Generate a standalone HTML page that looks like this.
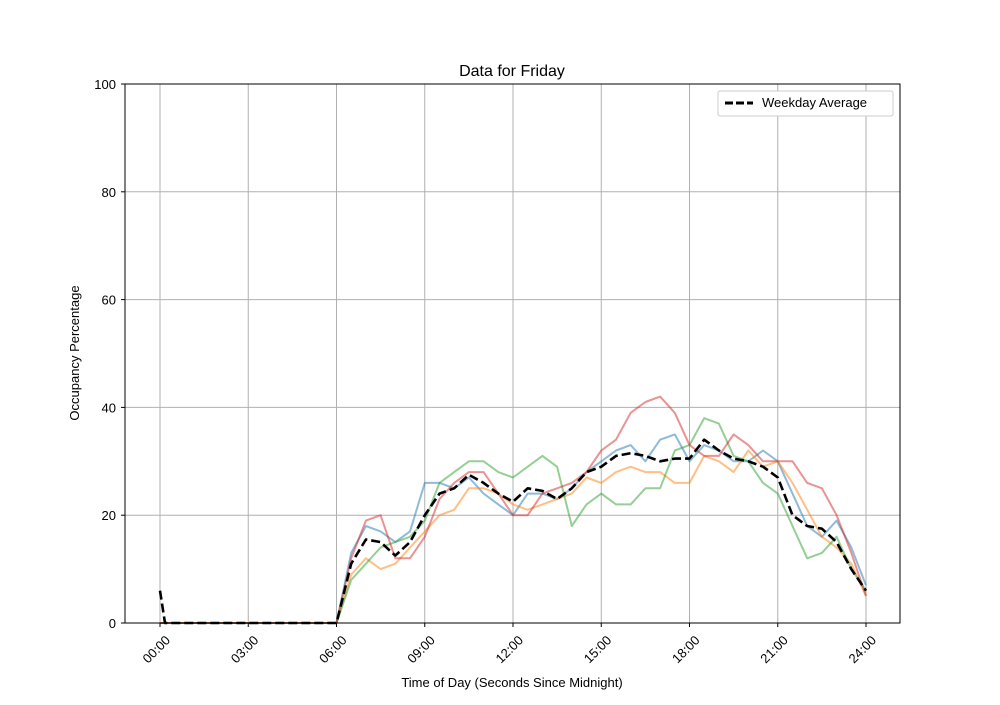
<!DOCTYPE html><html><head><style>body{margin:0;background:#fff}svg text{font-family:"Liberation Sans","DejaVu Sans",sans-serif;font-size:13px}</style></head><body>
<svg id="s" width="1000" height="700" xmlns="http://www.w3.org/2000/svg">
<rect width="1000" height="700" fill="#fff"/>
<g id="grid" stroke="#b0b0b0" stroke-width="1"></g>
<g id="lines" fill="none" stroke-width="2" stroke-linejoin="round"></g>
<rect x="125" y="84" width="775" height="539" fill="none" stroke="#000" stroke-width="1"/>
<g id="ticks" stroke="#000"></g>
<g id="labels" fill="#000"></g>
<text x="512" y="76" text-anchor="middle" style="font-size:16px">Data for Friday</text>
<text x="512" y="687" text-anchor="middle">Time of Day (Seconds Since Midnight)</text>
<text transform="translate(79,353) rotate(-90)" text-anchor="middle">Occupancy Percentage</text>
<rect x="718" y="91" width="175" height="25" rx="2" fill="#fff" stroke="#ccc"/>
<line x1="725" y1="103" x2="753" y2="103" stroke="#000" stroke-width="3" stroke-dasharray="8,3"/>
<text x="762" y="107">Weekday Average</text>
</svg>
<script>
const NS="http://www.w3.org/2000/svg";
function el(p,t,a,txt){const e=document.createElementNS(NS,t);for(const k in a)e.setAttribute(k,a[k]);if(txt!=null)e.textContent=txt;document.getElementById(p).appendChild(e);}
const X=h=>160+h*29.417, Y=v=>623-v*5.39;
for(let i=0;i<=8;i++){const x=X(i*3);el('grid','line',{x1:x,y1:84,x2:x,y2:623});el('ticks','line',{x1:x,y1:623,x2:x,y2:627});
const lab=String(i*3).padStart(2,'0')+':00';el('labels','text',{x:0,y:0,'text-anchor':'end',transform:`translate(${x+11},${641}) rotate(-45)`},lab);}
for(let v=0;v<=100;v+=20){const y=Y(v);el('grid','line',{x1:125,y1:y,x2:900,y2:y});el('ticks','line',{x1:121,y1:y,x2:125,y2:y});el('labels','text',{x:116,y:y+5,'text-anchor':'end'},v);}
const S=[
["#1f77b4",[0,13,18,17,15,17,26,26,25,27,24,22,20,24,24,23,25,28,30,32,33,30,34,35,30,33,32,30,30,32,30,24,18,16,19,14,7]],
["#ff7f0e",[0,9,12,10,11,14,17,20,21,25,25,24,22,21,22,23,24,27,26,28,29,28,28,26,26,31,30,28,32,29,30,26,21,16,14,11,5]],
["#2ca02c",[0,8,11,14,15,16,19,26,28,30,30,28,27,29,31,29,18,22,24,22,22,25,25,32,33,38,37,31,30,26,24,18,12,13,16,10,6]],
["#d62728",[0,12,19,20,12,12,16,23,26,28,28,24,20,20,24,25,26,28,32,34,39,41,42,39,33,31,31,35,33,30,30,30,26,25,20,13,5]]];
const avg=[0,11,15.5,15,12.5,15,20,24,25,27.5,26,24,22.5,25,24.5,23,25,28,29,31,31.5,31,30,30.5,30.5,34,32,30.5,30,29,27,20,18,17.5,15,10,6];
function pts(arr,first){let p=[];if(first!=null)p.push([X(0),Y(first)]);p.push([X(first!=null?0.17:0),Y(0)],[X(5.9),Y(0)]);
arr.forEach((v,i)=>p.push([X(6+i*0.5),Y(v)]));return p.map(q=>q[0].toFixed(1)+','+q[1].toFixed(1)).join(' ');}
S.forEach(s=>el('lines','polyline',{points:pts(s[1]),stroke:s[0],'stroke-opacity':0.5,'stroke-width':2}));
el('lines','polyline',{points:pts(avg,6),stroke:'#000','stroke-width':2.6,'stroke-dasharray':'9,4'});
</script></body></html>
